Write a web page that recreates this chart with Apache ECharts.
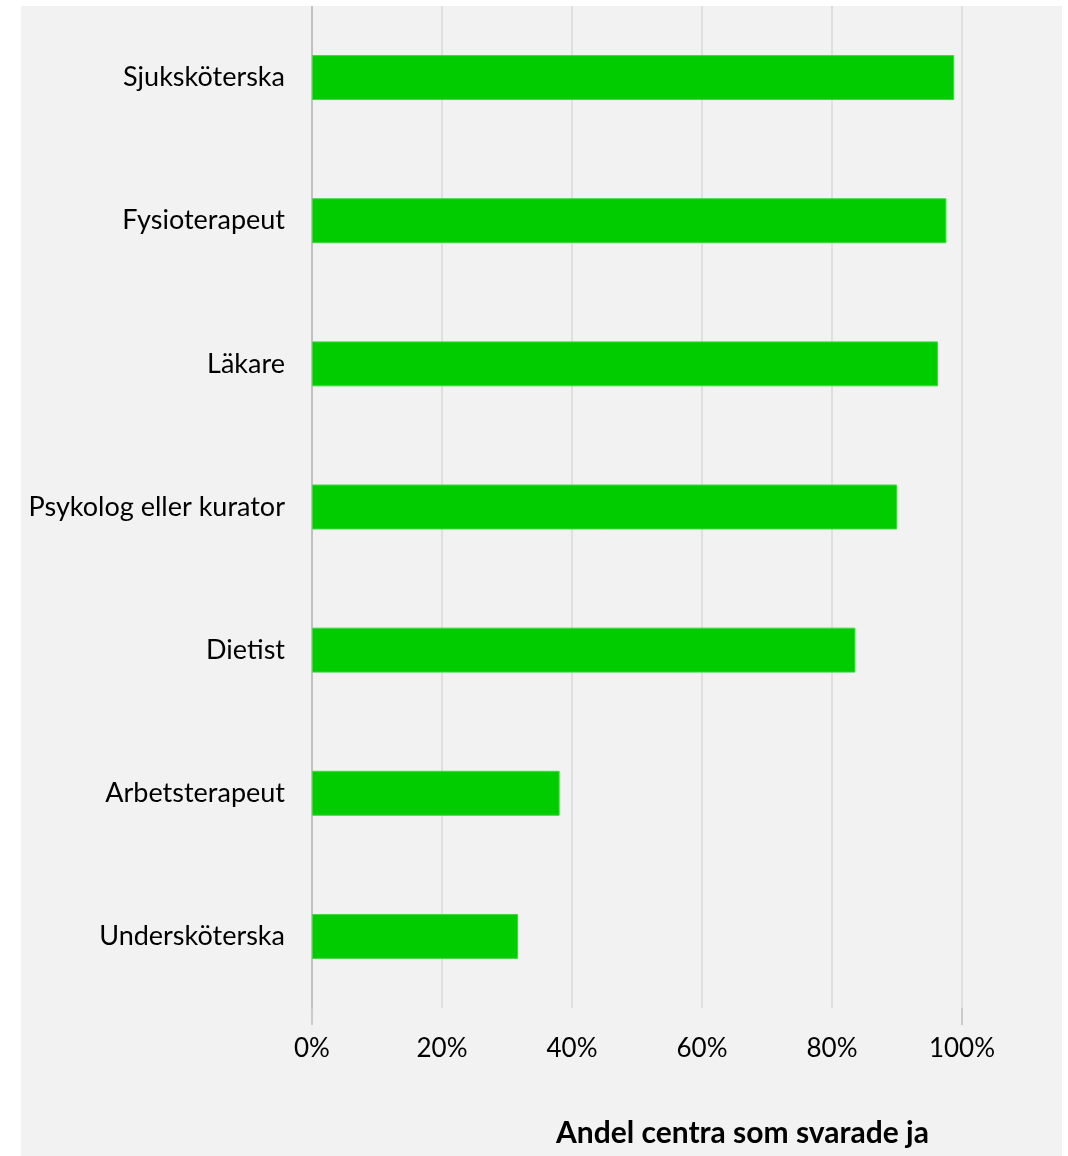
<!DOCTYPE html>
<html>
<head>
<meta charset="utf-8">
<script src="https://cdn.jsdelivr.net/npm/echarts@6/dist/echarts.min.js"></script>
<style>
  html, body { margin: 0; padding: 0; background: #ffffff; }
  #chart { position: absolute; left: 21px; top: 6px; width: 1041px; height: 1150px; }
</style>
</head>
<body>
<div id="chart"></div>
<script>
// Professions present at the centres, top to bottom
const categories = [
  'Sjuksköterska',
  'Fysioterapeut',
  'Läkare',
  'Psykolog eller kurator',
  'Dietist',
  'Arbetsterapeut',
  'Undersköterska'
];
// Share of centres answering yes (%)
const shareYes = [98.8, 97.6, 96.3, 90.0, 83.6, 38.1, 31.7];
// X axis range and step (%)
const axisMin = 0;
const axisMax = 100;
const axisStep = 20;
const axisTitle = 'Andel centra som svarade ja';

const fontFamily = 'Lato, "Open Sans", sans-serif';

const chart = echarts.init(document.getElementById('chart'), null, { renderer: 'canvas' });

chart.setOption({
  backgroundColor: '#f2f2f2',
  animation: false,
  grid: { left: 291, right: 100, top: 0, bottom: 148, containLabel: false },
  xAxis: [
    {
      type: 'value',
      min: axisMin,
      max: axisMax,
      interval: axisStep,
      position: 'bottom',
      axisLine: { show: false },
      axisTick: { show: false },
      splitLine: { show: true, lineStyle: { color: '#d9d9d9', width: 1.5 } },
      axisLabel: {
        margin: 28,
        color: '#000000',
        fontFamily: fontFamily,
        fontSize: 26,
        formatter: '{value}%'
      }
    },
    {
      // ends of the scale get a short tick below the plot
      type: 'value',
      min: axisMin,
      max: axisMax,
      interval: axisMax - axisMin,
      position: 'bottom',
      offset: 0,
      axisLine: { show: false },
      axisTick: { show: true, length: 17, lineStyle: { color: '#bfbfbf', width: 1.5 } },
      splitLine: { show: false },
      axisLabel: { show: false }
    }
  ],
  yAxis: [
    {
      type: 'category',
      data: categories,
      inverse: true,
      axisLine: { show: true, lineStyle: { color: '#bfbfbf', width: 1.5 } },
      axisTick: { show: false },
      axisLabel: {
        margin: 27,
        color: '#000000',
        fontFamily: fontFamily,
        fontSize: 27
      }
    },
    {
      type: 'category',
      data: categories,
      inverse: true,
      position: 'right',
      axisLine: { show: true, lineStyle: { color: '#bfbfbf', width: 1.5 } },
      axisTick: { show: false },
      axisLabel: { show: false }
    }
  ],
  series: [
    {
      type: 'bar',
      data: shareYes,
      xAxisIndex: 0,
      yAxisIndex: 0,
      barWidth: '31.4%',
      itemStyle: { color: '#00cc00', borderColor: '#3fd83f', borderWidth: 1 }
    }
  ],
  graphic: [
    {
      type: 'text',
      left: 535,
      top: 1112,
      style: {
        text: axisTitle,
        fill: '#000000',
        font: 'bold 30px ' + fontFamily
      }
    }
  ]
});
</script>
</body>
</html>
